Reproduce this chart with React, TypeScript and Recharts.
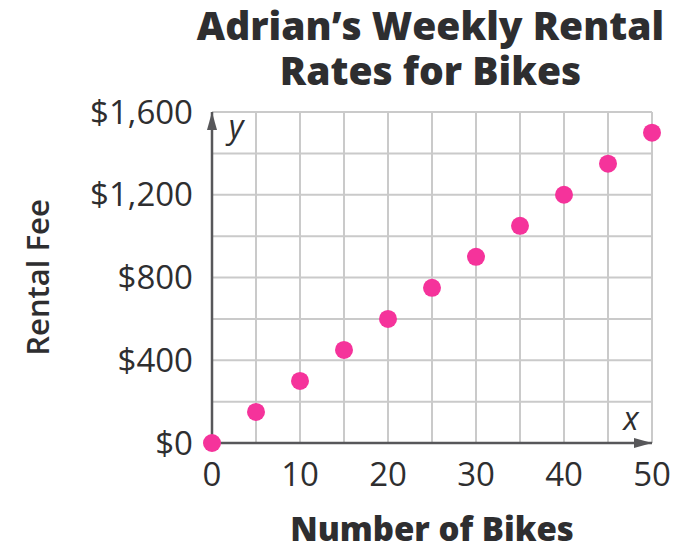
import React from 'react';
import { ScatterChart, Scatter, XAxis, YAxis, CartesianGrid, ReferenceDot, Label } from 'recharts';

const bikes = [0, 5, 10, 15, 20, 25, 30, 35, 40, 45, 50];
const fees = [0, 150, 300, 450, 600, 750, 900, 1050, 1200, 1350, 1500];

const xTicks = [0, 10, 20, 30, 40, 50];
const yTicks = [0, 400, 800, 1200, 1600];
const xGrid = [0, 5, 10, 15, 20, 25, 30, 35, 40, 45, 50];
const yGrid = [0, 200, 400, 600, 800, 1000, 1200, 1400, 1600];

const data = bikes.map((b, i) => ({ bikes: b, fee: fees[i] }));

const FONT = '"Open Sans", "Noto Sans", sans-serif';
const TEXT = '#2e2e30';
const AXIS = '#57575a';
const PINK = '#f5339b';

const fmtMoney = (v: number) => '$' + v.toLocaleString('en-US');

const Dot = (props: any) => <circle cx={props.cx} cy={props.cy} r={9} fill={PINK} />;

const XArrow = (props: any) => {
  const { cx, cy } = props;
  return (
    <g>
      <polygon points={`${cx},${cy} ${cx - 18},${cy - 5} ${cx - 18},${cy + 5}`} fill={AXIS} />
      <text x={cx - 21} y={cy - 13} textAnchor="middle" fontFamily={FONT} fontStyle="italic" fontSize={32} fill={TEXT}>
        x
      </text>
    </g>
  );
};

const YArrow = (props: any) => {
  const { cx, cy } = props;
  return (
    <g>
      <polygon points={`${cx},${cy} ${cx - 5},${cy + 18} ${cx + 5},${cy + 18}`} fill={AXIS} />
      <text x={cx + 24} y={cy + 26} textAnchor="middle" fontFamily={FONT} fontStyle="italic" fontSize={32} fill={TEXT}>
        y
      </text>
    </g>
  );
};

export default function App() {
  return (
    <div style={{ position: 'absolute', left: 0, top: 0, width: 681, height: 550, background: '#fff' }}>
      <div
        style={{
          position: 'absolute',
          left: 180,
          width: 501,
          top: 2,
          textAlign: 'center',
          fontFamily: FONT,
          fontWeight: 800,
          fontSize: 39,
          lineHeight: '45px',
          color: TEXT,
        }}
      >
        Adrian’s Weekly Rental
        <br />
        Rates for Bikes
      </div>
      <ScatterChart width={681} height={550} margin={{ top: 112, right: 29, bottom: 0, left: 0 }}>
        <CartesianGrid
          stroke="#cacaca"
          strokeWidth={2}
          horizontalValues={yGrid}
          verticalValues={xGrid}
        />
        <XAxis
          type="number"
          dataKey="bikes"
          domain={[0, 50]}
          ticks={xTicks}
          height={107}
          tickSize={0}
          tickMargin={20}
          tickLine={false}
          axisLine={{ stroke: AXIS, strokeWidth: 2.5 }}
          tick={{ fontFamily: FONT, fontSize: 33, fill: TEXT }}
        >
          <Label
            content={({ viewBox }: any) => (
              <text
                x={viewBox.x + viewBox.width / 2}
                y={541}
                textAnchor="middle"
                fontFamily={FONT}
                fontWeight={800}
                fontSize={33}
                fill={TEXT}
              >
                Number of Bikes
              </text>
            )}
          />
        </XAxis>
        <YAxis
          type="number"
          dataKey="fee"
          domain={[0, 1600]}
          ticks={yTicks}
          width={212}
          tickSize={0}
          tickMargin={19}
          tickLine={false}
          tickFormatter={fmtMoney}
          axisLine={{ stroke: AXIS, strokeWidth: 2.5 }}
          tick={{ fontFamily: FONT, fontSize: 33, fill: TEXT }}
        >
          <Label
            content={({ viewBox }: any) => {
              const cy = viewBox.y + viewBox.height / 2;
              return (
                <text
                  x={49}
                  y={cy}
                  transform={`rotate(-90 49 ${cy})`}
                  textAnchor="middle"
                  fontFamily={FONT}
                  fontWeight={600}
                  fontSize={31}
                  fill={TEXT}
                >
                  Rental Fee
                </text>
              );
            }}
          />
        </YAxis>
        <ReferenceDot x={50} y={0} ifOverflow="visible" shape={XArrow} />
        <ReferenceDot x={0} y={1600} ifOverflow="visible" shape={YArrow} />
        <Scatter data={data} shape={Dot} isAnimationActive={false} />
      </ScatterChart>
    </div>
  );
}
